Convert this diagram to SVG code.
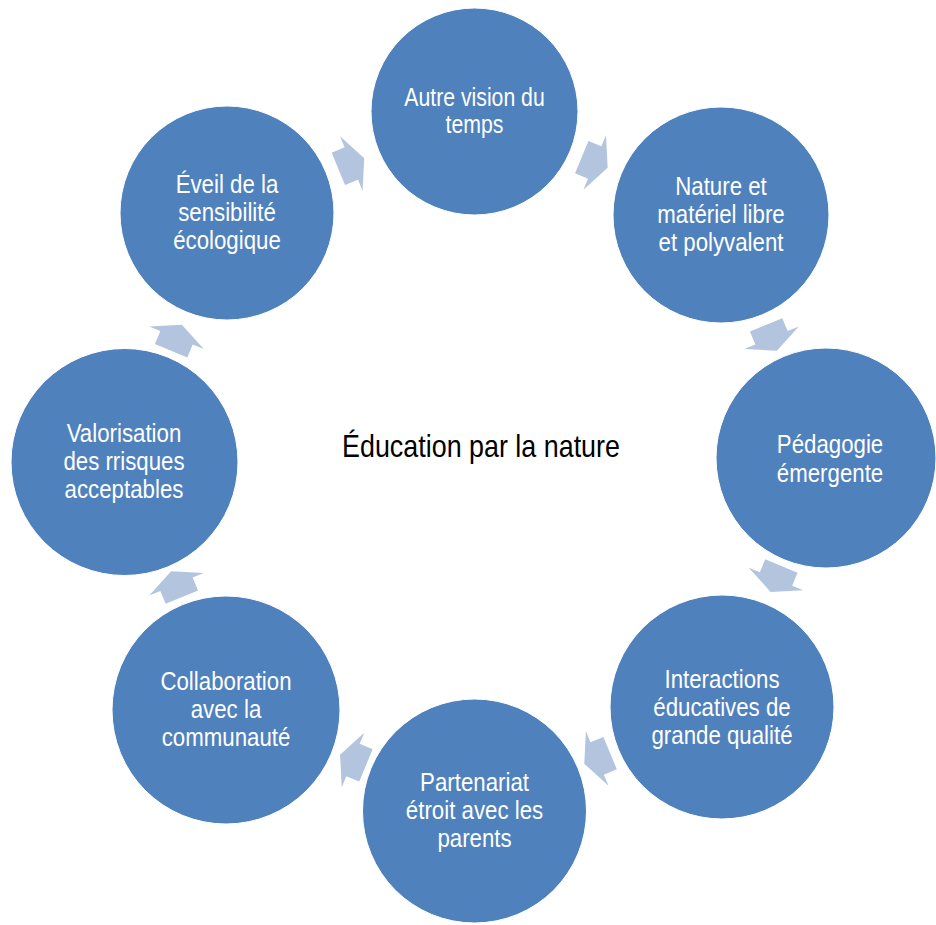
<svg xmlns="http://www.w3.org/2000/svg" width="936" height="925" viewBox="0 0 936 925">
<style>
.node{fill:#4F81BD;stroke:#FFFFFF;stroke-width:1}
.lbl{font-family:"Liberation Sans",Arial,sans-serif;font-size:26.5px;fill:#FFFFFF;text-anchor:middle}
.title{font-family:"Liberation Sans",Arial,sans-serif;font-size:32px;fill:#000000;text-anchor:middle}
.arr{fill:#B3C4DF}
</style>
<defs>
<path id="arrow" d="M-14,-17.5 L0,-17.5 L0,-29.5 L14,0 L0,29.5 L0,17.5 L-14,17.5 Z"/>
</defs>
<rect width="936" height="925" fill="#FFFFFF"/>
<g id="connectors">
<use href="#arrow" class="arr" transform="translate(594.7,162.5) rotate(22.5)"/>
<use href="#arrow" class="arr" transform="translate(771.5,337.8) rotate(67.5)"/>
<use href="#arrow" class="arr" transform="translate(776,579) rotate(112.5)"/>
<use href="#arrow" class="arr" transform="translate(597.2,758.5) rotate(157.5)"/>
<use href="#arrow" class="arr" transform="translate(353,760) rotate(202.5)"/>
<use href="#arrow" class="arr" transform="translate(176.5,584.2) rotate(247.5)"/>
<use href="#arrow" class="arr" transform="translate(176.5,337.8) rotate(292.5)"/>
<use href="#arrow" class="arr" transform="translate(351.3,163.5) rotate(337.5)"/>
</g>
<g id="center-title">
<text class="title" transform="translate(481,0) scale(0.84,1)" x="0" y="457">Éducation par la nature</text>
</g>
<g id="node-1">
<circle class="node" cx="474.5" cy="111.5" r="103.5"/>
<text class="lbl" transform="translate(474.5,0) scale(0.85,1)" style="font-size:25px"><tspan x="0" y="106">Autre vision du</tspan><tspan x="0" y="133">temps</tspan></text>
</g>
<g id="node-2">
<circle class="node" cx="721" cy="215" r="108"/>
<text class="lbl" transform="translate(721,0) scale(0.84,1)"><tspan x="0" y="195">Nature et</tspan><tspan x="0" y="223">matériel libre</tspan><tspan x="0" y="251">et polyvalent</tspan></text>
</g>
<g id="node-3">
<circle class="node" cx="826" cy="458" r="110"/>
<text class="lbl" transform="translate(830,0) scale(0.84,1)"><tspan x="0" y="453.5">Pédagogie</tspan><tspan x="0" y="482">émergente</tspan></text>
</g>
<g id="node-4">
<circle class="node" cx="722" cy="707" r="112"/>
<text class="lbl" transform="translate(722,0) scale(0.84,1)"><tspan x="0" y="688">Interactions</tspan><tspan x="0" y="716">éducatives de</tspan><tspan x="0" y="744">grande qualité</tspan></text>
</g>
<g id="node-5">
<circle class="node" cx="474.5" cy="811" r="112"/>
<text class="lbl" transform="translate(474.5,0) scale(0.84,1)"><tspan x="0" y="791.5">Partenariat</tspan><tspan x="0" y="819.5">étroit avec les</tspan><tspan x="0" y="847.5">parents</tspan></text>
</g>
<g id="node-6">
<circle class="node" cx="226" cy="710" r="114"/>
<text class="lbl" transform="translate(226,0) scale(0.84,1)"><tspan x="0" y="690">Collaboration</tspan><tspan x="0" y="718">avec la</tspan><tspan x="0" y="746">communauté</tspan></text>
</g>
<g id="node-7">
<circle class="node" cx="124.5" cy="462" r="113.5"/>
<text class="lbl" transform="translate(124,0) scale(0.84,1)"><tspan x="0" y="442">Valorisation</tspan><tspan x="0" y="470">des rrisques</tspan><tspan x="0" y="498">acceptables</tspan></text>
</g>
<g id="node-8">
<circle class="node" cx="227" cy="213" r="107"/>
<text class="lbl" transform="translate(227,0) scale(0.84,1)"><tspan x="0" y="193">Éveil de la</tspan><tspan x="0" y="221">sensibilité</tspan><tspan x="0" y="249">écologique</tspan></text>
</g>
</svg>
